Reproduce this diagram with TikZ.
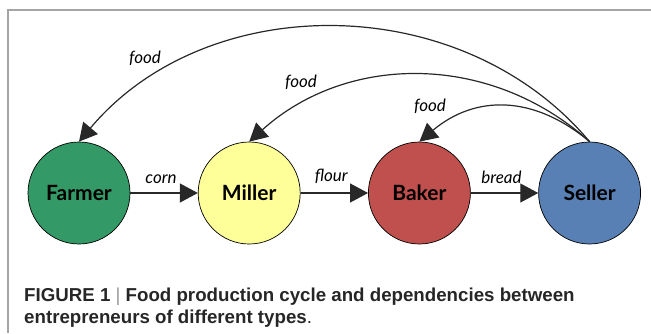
\documentclass[tikz,border=0pt]{standalone}
\usepackage{fontspec}
\setmainfont{Lato}
\newfontfamily\captionfont{Liberation Sans}
\usetikzlibrary{arrows.meta,positioning}

\definecolor{farmergreen}{RGB}{51,153,102}
\definecolor{milleryellow}{RGB}{255,255,153}
\definecolor{bakerred}{RGB}{192,80,77}
\definecolor{sellerblue}{RGB}{88,128,180}
\definecolor{arrowgray}{RGB}{40,40,40}
\definecolor{framegray}{RGB}{165,165,165}

\tikzset{
  agent/.style={circle, draw=black, line width=0.7pt, minimum size=102pt, inner sep=0pt,
    font=\fontsize{21}{24}\selectfont\bfseries},
  flow/.style={-{Triangle[length=18pt,width=19pt]}, line width=1.2pt, draw=arrowgray},
  goods/.style={font=\fontsize{17}{20}\selectfont\itshape},
}

\begin{document}
\begin{tikzpicture}[x=1pt,y=-1pt]
\useasboundingbox (0,0) rectangle (651,333);
\draw [framegray, line width=1.8pt] (8,333) -- (8,10) -- (651,10);

% the four entrepreneurs
\node [agent, fill=farmergreen] (farmer) at (79,193) {Farmer};
\node [agent, fill=milleryellow, right=67.5pt of farmer] (miller) {Miller};
\node [agent, fill=bakerred, right=67.5pt of miller] (baker) {Baker};
\node [agent, fill=sellerblue, right=67.5pt of baker] (seller) {Seller};

% goods along the chain
\draw [flow] (farmer) -- node [goods, above=5pt, xshift=-3pt] {corn} (miller);
\draw [flow] (miller) -- node [goods, above=5pt, xshift=-3pt] {flour} (baker);
\draw [flow] (baker) -- node [goods, above=5pt, xshift=-3pt] {bread} (seller);

% food going back
\draw [flow] (seller.north) to [out=130, in=50] (farmer.north);
\draw [flow] (seller.north) to [out=138, in=42] (miller.north);
\draw [flow] (seller.north) to [out=140, in=40, looseness=1.1] (baker.north);
\node [goods] (food1) at (145,58) {food};
\node [goods] (food2) at (301,82) {food};
\node [goods] (food3) at (430,106) {food};

% caption
\node [anchor=north west, align=left, inner sep=0pt, text=black!85,
  font=\captionfont\fontsize{18.7}{22}\selectfont\bfseries] (caption) at (24,288)
  {FIGURE 1 {\mdseries\color{black!40}|} Food production cycle and dependencies between\\
   entrepreneurs of different types{\mdseries.}};
\end{tikzpicture}
\end{document}
